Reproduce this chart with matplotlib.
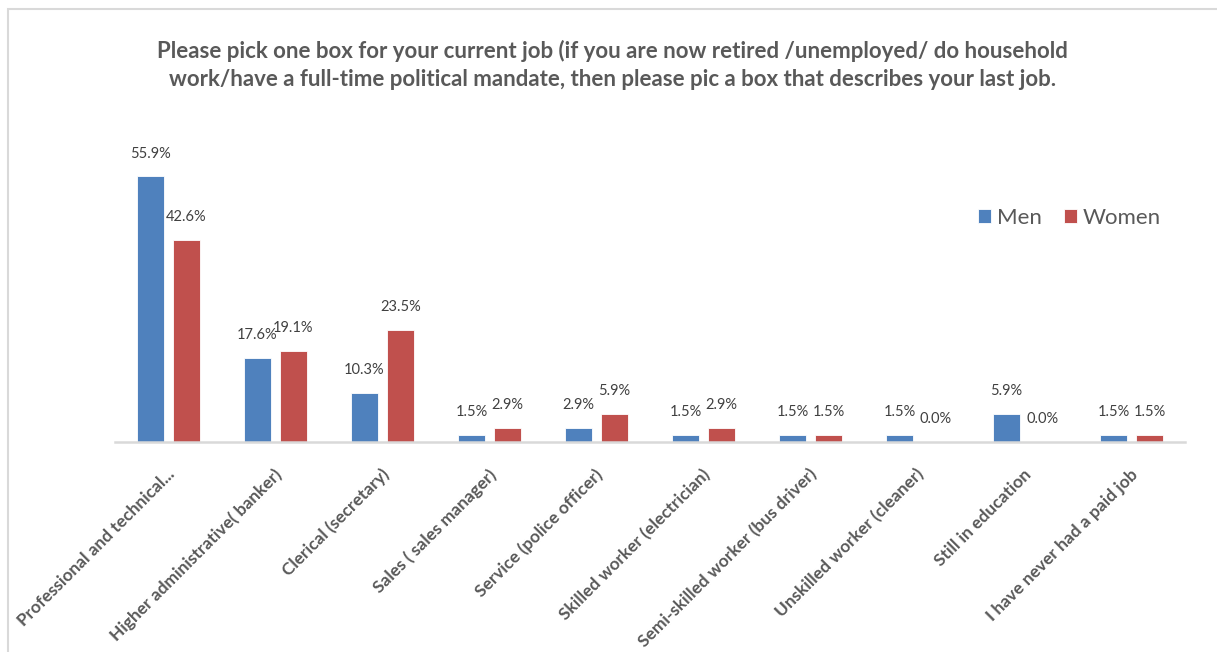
import matplotlib.pyplot as plt
import matplotlib.patches as patches
from matplotlib.transforms import ScaledTranslation
import numpy as np

plt.rcParams['font.family'] = ['Lato', 'DejaVu Sans']

# Survey answers: share of respondents per job category
jobs = [
    "Professional and technical...",
    "Higher administrative( banker)",
    "Clerical (secretary)",
    "Sales ( sales manager)",
    "Service (police officer)",
    "Skilled worker (electrician)",
    "Semi-skilled worker (bus driver)",
    "Unskilled worker (cleaner)",
    "Still in education",
    "I have never had a paid job",
]
men = [55.9, 17.6, 10.3, 1.5, 2.9, 1.5, 1.5, 1.5, 5.9, 1.5]
women = [42.6, 19.1, 23.5, 2.9, 5.9, 2.9, 1.5, 0.0, 0.0, 1.5]

title = ("Please pick one box for your current job (if you are now retired /unemployed/ do household\n"
         "work/have a full-time political mandate, then please pic a box that describes your last job.")

blue = "#4F81BD"
red = "#C0504D"
text_gray = "#595959"
label_gray = "#404040"

fig = plt.figure(figsize=(12.17, 6.52), dpi=100)
ax = fig.add_axes([115 / 1217, 1 - 442 / 652, (1185 - 115) / 1217, (442 - 157) / 652])

x = np.arange(len(jobs))
w = 0.26
shift = 0.168
b1 = ax.bar(x - shift, men, w, color=blue, edgecolor="white", linewidth=0.6, label="Men")
b2 = ax.bar(x + shift, women, w, color=red, edgecolor="white", linewidth=0.6, label="Women")

# percentage labels above each bar
for bars, vals in ((b1, men), (b2, women)):
    for bar, v in zip(bars, vals):
        ax.annotate(f"{v:.1f}%", (bar.get_x() + bar.get_width() / 2, v),
                    xytext=(0, 16.5), textcoords="offset points",
                    ha="center", va="center", fontsize=10.5, color=label_gray)

ax.set_xlim(-0.5, len(jobs) - 0.5)
ax.set_ylim(0, 60)
ax.set_yticks([])
for side in ("top", "right", "left"):
    ax.spines[side].set_visible(False)
ax.spines["bottom"].set_color("#D9D9D9")
ax.spines["bottom"].set_linewidth(1.8)

ax.set_xticks(x)
ax.set_xticklabels(jobs, rotation=45, ha="right", va="center", rotation_mode="anchor",
                   fontsize=12.5, fontweight="bold", color=text_gray)
ax.tick_params(axis="x", length=0, pad=0)
offset = ScaledTranslation(0.04, -0.30, fig.dpi_scale_trans)
for lbl in ax.get_xticklabels():
    lbl.set_transform(lbl.get_transform() + offset)

leg = ax.legend(loc="center left", bbox_to_anchor=(978 / 1217, 1 - 218 / 652),
                bbox_transform=fig.transFigure, ncol=2, frameon=False,
                borderaxespad=0, borderpad=0,
                fontsize=16, handlelength=0.6, handleheight=0.6, handletextpad=0.25,
                columnspacing=1.0, labelcolor=text_gray)

fig.text(0.503, 1 - 65 / 652, title, ha="center", va="center", fontsize=16,
         fontweight="bold", color=text_gray, linespacing=1.45)

# light chart border (top and left edges visible)
fig.add_artist(patches.Rectangle((8 / 1217, -0.1), 1.2, 1 - 9 / 652 + 0.1,
                                 transform=fig.transFigure, fill=False,
                                 edgecolor="#D9D9D9", linewidth=1.5))

fig.savefig("out.png", dpi=100)
